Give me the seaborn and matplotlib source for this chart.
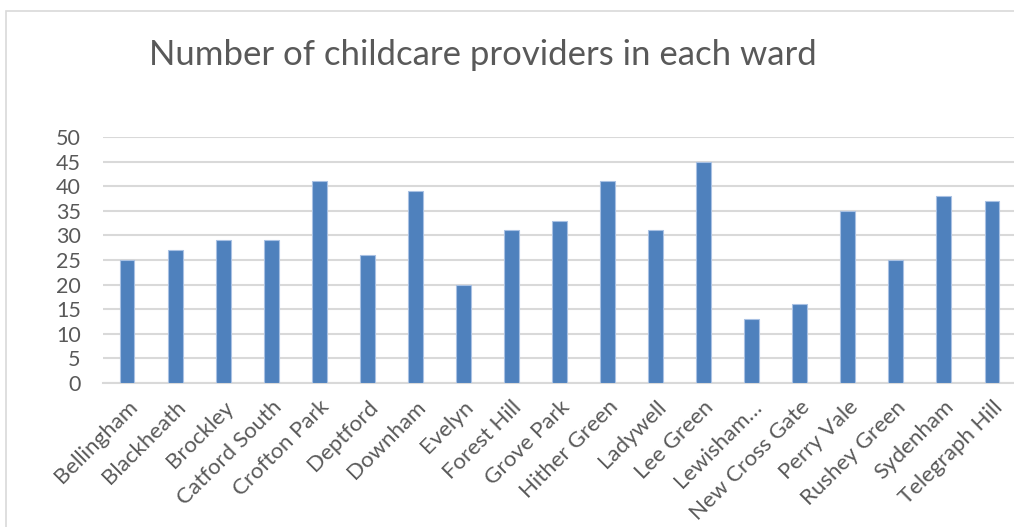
import matplotlib
matplotlib.use("Agg")
import matplotlib.pyplot as plt
import seaborn as sns
import pandas as pd
from matplotlib.patches import Rectangle

wards = ["Bellingham", "Blackheath", "Brockley", "Catford South", "Crofton Park",
         "Deptford", "Downham", "Evelyn", "Forest Hill", "Grove Park",
         "Hither Green", "Ladywell", "Lee Green", "Lewisham…", "New Cross Gate",
         "Perry Vale", "Rushey Green", "Sydenham", "Telegraph Hill"]
providers = [25, 27, 29, 29, 41, 26, 39, 20, 31, 33, 41, 31, 45, 13, 16, 35, 25, 38, 37]
yticks = [0, 5, 10, 15, 20, 25, 30, 35, 40, 45, 50]

sns.set_theme(style="white")
plt.rcParams['font.family'] = ['Lato', 'DejaVu Sans']

W, H = 1014, 527
fig = plt.figure(figsize=(W / 100, H / 100), dpi=100)
ax = fig.add_axes([103 / W, (H - 383) / H, (1016 - 103) / W, (383 - 137) / H])

df = pd.DataFrame({"ward": wards, "n": providers})
sns.barplot(data=df, x="ward", y="n", color="#4F81BD", saturation=1,
            width=0.31, edgecolor="#A9C1E3", linewidth=0.8, ax=ax, zorder=3)

ax.set_ylim(0, 50)
ax.set_xlim(-0.5, 18.5)
ax.set_yticks(yticks)
ax.set_yticklabels([str(v) for v in yticks], fontsize=15.5, color="#595959")
ax.yaxis.grid(True, color="#D9D9D9", linewidth=1.5, zorder=0)
ax.set_axisbelow(True)
for s in ["top", "right", "left"]:
    ax.spines[s].set_visible(False)
ax.spines["bottom"].set_color("#D9D9D9")
ax.spines["bottom"].set_linewidth(1.5)
ax.tick_params(axis="y", length=0, pad=16)
ax.set_xticks(range(len(wards)))
ax.set_xticklabels(wards, rotation=45, ha="right", va="top",
                   rotation_mode="anchor", fontsize=16, color="#595959")
ax.tick_params(axis="x", length=0, pad=10)
ax.set_xlabel("")
ax.set_ylabel("")

fig.text(483 / W, 1 - 55 / H, "Number of childcare providers in each ward",
         ha="center", va="center", fontsize=25, color="#595959")

fig.patches.append(Rectangle((6 / W, -0.1), 1.2, (H - 11) / H + 0.1,
                             transform=fig.transFigure, fill=False,
                             edgecolor="#D9D9D9", linewidth=1.2))

fig.savefig("out.png", dpi=100)
